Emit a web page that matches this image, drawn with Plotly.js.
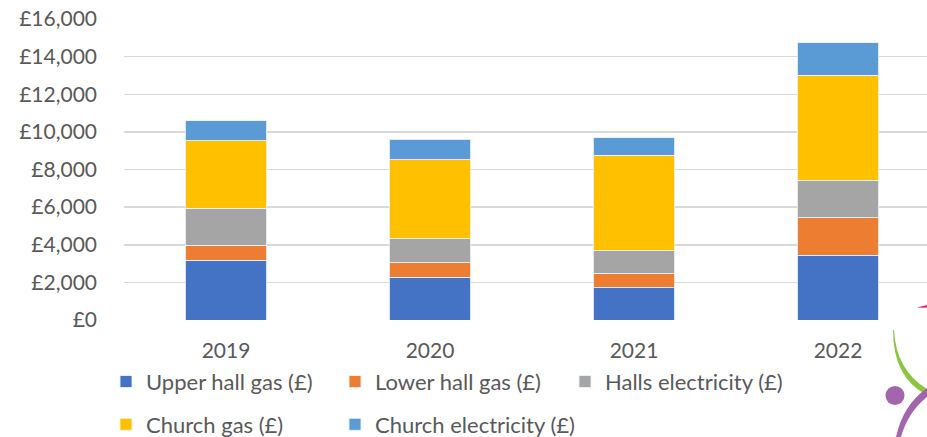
<!DOCTYPE html>
<html><head><meta charset="utf-8">
<script src="https://cdn.plot.ly/plotly-3.0.1.min.js"></script>
<style>html,body{margin:0;padding:0;background:#fff;overflow:hidden}</style>
</head><body>
<div id="wrap" style="position:relative;width:927px;height:437px">
<div id="chart" style="width:927px;height:437px"></div>
<svg style="position:absolute;left:0;top:0;pointer-events:none" width="927" height="437" viewBox="0 0 927 437">
  <path d="M917,307.5 Q922,306 927,305 L927,307.5 Q922,307.8 917,307.5 Z" fill="#e0245e"/>
  <path d="M894,330 Q896,370 927,389 L927,395 Q893,378 893,330 Z" fill="#8cc63f"/>
  <circle cx="895" cy="395.5" r="9.5" fill="#a366ad"/>
  <path d="M896,437 Q903,405 927,388 L927,397 Q908,412 901,437 Z" fill="#a366ad"/>
</svg>
</div>
<script>
const years = ['2019', '2020', '2021', '2022'];
const upperHallGas = [3170, 2270, 1720, 3450];
const lowerHallGas = [800, 770, 760, 1980];
const hallsElectricity = [1960, 1300, 1240, 1990];
const churchGas = [3590, 4190, 5040, 5590];
const churchElectricity = [1060, 1070, 940, 1720];

const seriesNames = ['Upper hall gas (£)', 'Lower hall gas (£)', 'Halls electricity (£)', 'Church gas (£)', 'Church electricity (£)'];
const seriesValues = [upperHallGas, lowerHallGas, hallsElectricity, churchGas, churchElectricity];
const seriesColors = ['#4472C4', '#ED7D31', '#A5A5A5', '#FFC000', '#5B9BD5'];
const legendIds = ['legend', 'legend2', 'legend3', 'legend4', 'legend5'];
const legendLeft = [106, 335, 565, 106, 335];
const legendMidY = [381.7, 381.7, 381.7, 424.5, 424.5];

const FONT = 'Lato, "Liberation Sans", sans-serif';
const traces = seriesNames.map((n, i) => ({
  type: 'bar',
  name: n,
  x: years,
  y: seriesValues[i],
  legend: legendIds[i],
  marker: {color: seriesColors[i], line: {color: 'rgba(235,242,250,0.9)', width: 1}}
}));

const layout = {
  width: 927, height: 437,
  margin: {l: 124, r: 0, t: 19, b: 117},
  barmode: 'stack',
  bargap: 0.6,
  paper_bgcolor: '#fff', plot_bgcolor: '#fff',
  font: {family: FONT, size: 21, color: '#595959'},
  showlegend: true,
  xaxis: {
    type: 'category', range: [-0.5, 3.436],
    showgrid: false, zeroline: false, showline: false, ticks: '',
    ticklabelstandoff: 16,
    tickfont: {family: FONT, size: 21, color: '#595959'}
  },
  yaxis: {
    range: [0, 16000], dtick: 2000, tick0: 0,
    tickprefix: '£', tickformat: ',d',
    showgrid: true, gridcolor: '#d9d9d9', gridwidth: 1.5,
    zeroline: false, showline: false, ticks: '',
    ticklabelstandoff: 26,
    tickfont: {family: FONT, size: 21, color: '#595959'}
  },
  hovermode: false
};

legendIds.forEach((id, i) => {
  layout[id] = {
    orientation: 'h', xref: 'container', yref: 'container',
    xanchor: 'left', yanchor: 'middle',
    x: legendLeft[i] / 927, y: 1 - legendMidY[i] / 437,
    font: {family: FONT, size: 22, color: '#595959'},
    bgcolor: 'rgba(0,0,0,0)', borderwidth: 0
  };
});

Plotly.newPlot('chart', traces, layout, {staticPlot: true, displayModeBar: false});
</script>
</body></html>
